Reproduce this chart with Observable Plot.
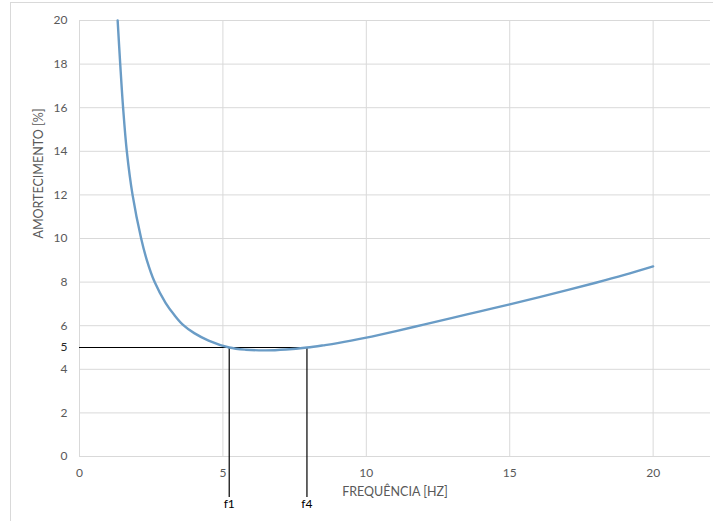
<!DOCTYPE html>
<html>
<head>
<meta charset="utf-8">
<script src="https://cdn.jsdelivr.net/npm/d3@7"></script>
<script src="https://cdn.jsdelivr.net/npm/@observablehq/plot@0.6"></script>
<style>
  html, body { margin: 0; padding: 0; background: #fff; }
  #wrap { position: relative; width: 723px; height: 521px; }
  #frame { position: absolute; left: 10px; top: 2px; width: 703px; height: 519px;
           border-top: 1px solid #d9d9d9; border-left: 1px solid #d9d9d9; box-sizing: border-box; }
  #chart { position: absolute; left: 0; top: 0; }
</style>
</head>
<body>
<div id="wrap"><div id="frame"></div><div id="chart"></div></div>
<script>
// Damping curve
const freq =    [1.33, 1.42, 1.52, 1.65, 1.85, 2.15, 2.35, 2.62, 3.0,  3.3, 3.6,  4.0,  4.5,  5.22, 5.8, 6.5,  7.2,  7.93, 8.5, 9.0, 10,   11,   12,   13,   14,   15,   16,   17,   18,   19,   20];
const damping = [20,   18,   16,   14,   12,   10,   9,    8,    7.05, 6.5, 6.05, 5.66, 5.32, 5.0,  4.9, 4.87, 4.91, 5.0,  5.1, 5.2, 5.45, 5.74, 6.05, 6.36, 6.67, 6.98, 7.30, 7.63, 7.97, 8.33, 8.72];

// Target damping and the two frequencies where the curve meets it
const targetDamping = 5;
const markerNames = ["f1", "f4"];
const markerFreqs = [5.22, 7.93];

const xTicks = [0, 5, 10, 15, 20];
const yTicks = [0, 2, 4, 6, 8, 10, 12, 14, 16, 18, 20];
const xLabel = "FREQUÊNCIA [HZ]";
const yLabel = "AMORTECIMENTO [%]";

const curve = freq.map((f, i) => ({f, d: damping[i]}));
const markers = markerNames.map((n, i) => ({name: n, f: markerFreqs[i]}));
const font = "Lato, 'Open Sans', sans-serif";

const chart = Plot.plot({
  width: 723,
  height: 521,
  marginLeft: 79,
  marginRight: 13,
  marginTop: 20,
  marginBottom: 65,
  style: {fontFamily: font, fontSize: "12px", background: "transparent", overflow: "visible"},
  x: {domain: [0, 22]},
  y: {domain: [0, 20]},
  marks: [
    Plot.gridY(yTicks, {stroke: "#d9d9d9", strokeOpacity: 1}),
    Plot.gridX(xTicks, {stroke: "#d9d9d9", strokeOpacity: 1}),
    Plot.axisX(xTicks, {tickSize: 0, tickPadding: 12, fill: "#595959", label: null}),
    Plot.axisY(yTicks, {tickSize: 0, tickPadding: 12, fill: "#595959", label: null}),
    Plot.axisY([targetDamping], {tickSize: 0, tickPadding: 12, fill: "#262626", label: null}),
    Plot.text([xLabel], {frameAnchor: "bottom", dy: 39, fill: "#595959", fontSize: 12.5}),
    Plot.text([yLabel], {frameAnchor: "left", dx: -41, rotate: -90, fill: "#595959", fontSize: 12.5}),
    Plot.ruleY([targetDamping], {x1: 0, x2: markerFreqs[1], stroke: "#000", strokeWidth: 1.2}),
    Plot.ruleX(markers, {x: "f", y1: targetDamping, y2: -1.88, stroke: "#000", strokeWidth: 1.2}),
    Plot.text(markers, {x: "f", y: -2.2, text: "name", fill: "#000", fontSize: 12}),
    Plot.line(curve, {x: "f", y: "d", curve: "catmull-rom", stroke: "#6a9cc6", strokeWidth: 2.4})
  ]
});
document.getElementById("chart").appendChild(chart);
</script>
</body>
</html>
